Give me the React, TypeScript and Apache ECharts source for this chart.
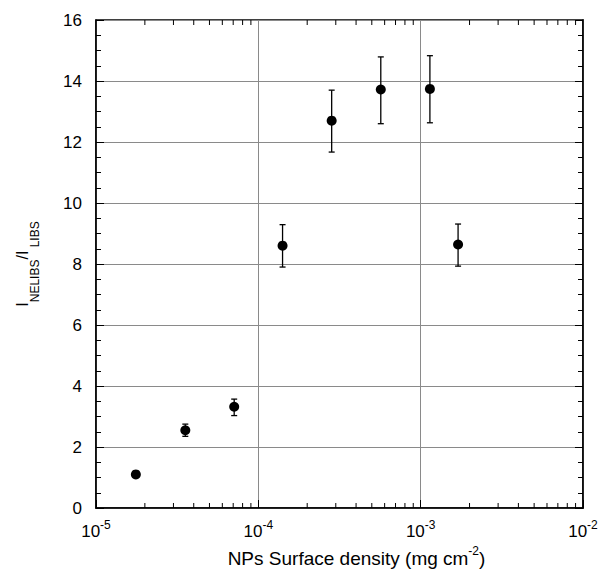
import React, { useEffect, useRef } from "react";
import * as echarts from "echarts";

const densities = [1.76e-5, 3.55e-5, 7.1e-5, 1.41e-4, 2.83e-4, 5.68e-4, 1.14e-3, 1.7e-3];
const ratios = [1.1, 2.55, 3.32, 8.6, 12.7, 13.72, 13.74, 8.64];
const errLow = [1.05, 2.35, 3.03, 7.9, 11.67, 12.6, 12.63, 7.93];
const errHigh = [1.15, 2.75, 3.57, 9.29, 13.7, 14.79, 14.83, 9.31];
const minorTickValues = [
  2e-5, 3e-5, 4e-5, 5e-5, 6e-5, 7e-5, 8e-5, 9e-5,
  2e-4, 3e-4, 4e-4, 5e-4, 6e-4, 7e-4, 8e-4, 9e-4,
  2e-3, 3e-3, 4e-3, 5e-3, 6e-3, 7e-3, 8e-3, 9e-3,
];

const FONT = "Liberation Sans, Arial, sans-serif";

export default function App() {
  const ref = useRef<HTMLDivElement>(null);
  useEffect(() => {
    if (!ref.current) return;
    const chart = echarts.init(ref.current, null, { renderer: "svg" });
    const gridLine = { show: true, lineStyle: { color: "#8a8a8a", width: 1 } };
    const yCommon = {
      type: "value",
      min: 0,
      max: 16,
      interval: 2,
      axisLine: { show: true, lineStyle: { color: "#000", width: 1.5 } },
      axisTick: { show: true, inside: true, length: 8, lineStyle: { color: "#000", width: 1 } },
      minorTick: { show: true, splitNumber: 4, length: 5, lineStyle: { color: "#000", width: 1 } },
    };
    chart.setOption({
      animation: false,
      backgroundColor: "#fff",
      textStyle: { fontFamily: FONT },
      grid: {
        left: 96, top: 20, width: 487, height: 488,
        show: true, borderColor: "#000", borderWidth: 1.5,
        containLabel: false, outerBoundsMode: "none",
      },
      xAxis: [
        {
          type: "log",
          logBase: 10,
          min: 1e-5,
          max: 1e-2,
          position: "bottom",
          axisLine: { show: true, lineStyle: { color: "#000", width: 1.5 } },
          axisTick: { show: true, inside: true, length: 8, lineStyle: { color: "#000", width: 1 } },
          splitLine: gridLine,
          axisLabel: {
            margin: 11,
            formatter: (v: number) => {
              const e = Math.round(Math.log10(v));
              return "{b|10}{s|" + e + "}";
            },
            rich: {
              b: { fontSize: 17, fontFamily: FONT, color: "#000", verticalAlign: "top", padding: [4, 0, 0, 0], lineHeight: 18 },
              s: { fontSize: 12, fontFamily: FONT, color: "#000", verticalAlign: "top", lineHeight: 12 },
            },
          },
          name: "{b|NPs Surface density (mg cm}{s|-2}{b|)}",
          nameLocation: "middle",
          nameGap: 35,
          nameTextStyle: {
            fontSize: 19,
            fontFamily: FONT,
            color: "#000",
            verticalAlign: "top",
            padding: [0, 0, 0, 34],
            rich: {
              s: { fontSize: 12, fontFamily: FONT, color: "#000", verticalAlign: "top", lineHeight: 12 },
              b: { fontSize: 19, fontFamily: FONT, color: "#000", verticalAlign: "top", lineHeight: 21, padding: [4, 0, 0, 0] },
            },
          },
        },
      ],
      yAxis: [
        {
          ...yCommon,
          position: "left",
          splitLine: gridLine,
          axisLabel: { fontSize: 17, color: "#000", margin: 14, fontFamily: FONT },
          name: "{a|I}{s|NELIBS}{a|/I}{s| LIBS}",
          nameLocation: "middle",
          nameGap: 64,
          nameRotate: 90,
          nameTextStyle: {
            rich: {
              a: { fontSize: 16, fontFamily: FONT, color: "#000", lineHeight: 18, verticalAlign: "top" },
              s: { fontSize: 12, fontFamily: FONT, color: "#000", lineHeight: 12, verticalAlign: "top", padding: [15, 0, 0, 0] },
            },
          },
        },
        {
          ...yCommon,
          position: "right",
          splitLine: { show: false },
          axisLabel: { show: false },
        },
      ],
      series: [
        {
          type: "custom",
          silent: true,
          clip: false,
          data: minorTickValues.map((v) => [v, 0]),
          renderItem: (params: any, api: any) => {
            const p = api.coord([api.value(0), 0]);
            const cs = params.coordSys;
            const style = { stroke: "#000", lineWidth: 1 };
            return {
              type: "group",
              children: [
                { type: "line", shape: { x1: p[0], y1: cs.y + cs.height, x2: p[0], y2: cs.y + cs.height - 5 }, style },
                { type: "line", shape: { x1: p[0], y1: cs.y, x2: p[0], y2: cs.y + 5 }, style },
              ],
            };
          },
        },
        {
          type: "custom",
          silent: true,
          data: densities.map((d, i) => [d, errLow[i], errHigh[i]]),
          renderItem: (params: any, api: any) => {
            const lo = api.coord([api.value(0), api.value(1)]);
            const hi = api.coord([api.value(0), api.value(2)]);
            const w = 3;
            const style = { stroke: "#000", lineWidth: 1.3 };
            return {
              type: "group",
              children: [
                { type: "line", shape: { x1: lo[0], y1: lo[1], x2: hi[0], y2: hi[1] }, style },
                { type: "line", shape: { x1: lo[0] - w, y1: lo[1], x2: lo[0] + w, y2: lo[1] }, style },
                { type: "line", shape: { x1: hi[0] - w, y1: hi[1], x2: hi[0] + w, y2: hi[1] }, style },
              ],
            };
          },
        },
        {
          type: "scatter",
          symbol: "circle",
          symbolSize: 10,
          itemStyle: { color: "#000", opacity: 1 },
          data: densities.map((d, i) => [d, ratios[i]]),
        },
      ],
    });
    return () => chart.dispose();
  }, []);
  return <div ref={ref} style={{ position: "fixed", left: 0, top: 0, width: 600, height: 573 }} />;
}
